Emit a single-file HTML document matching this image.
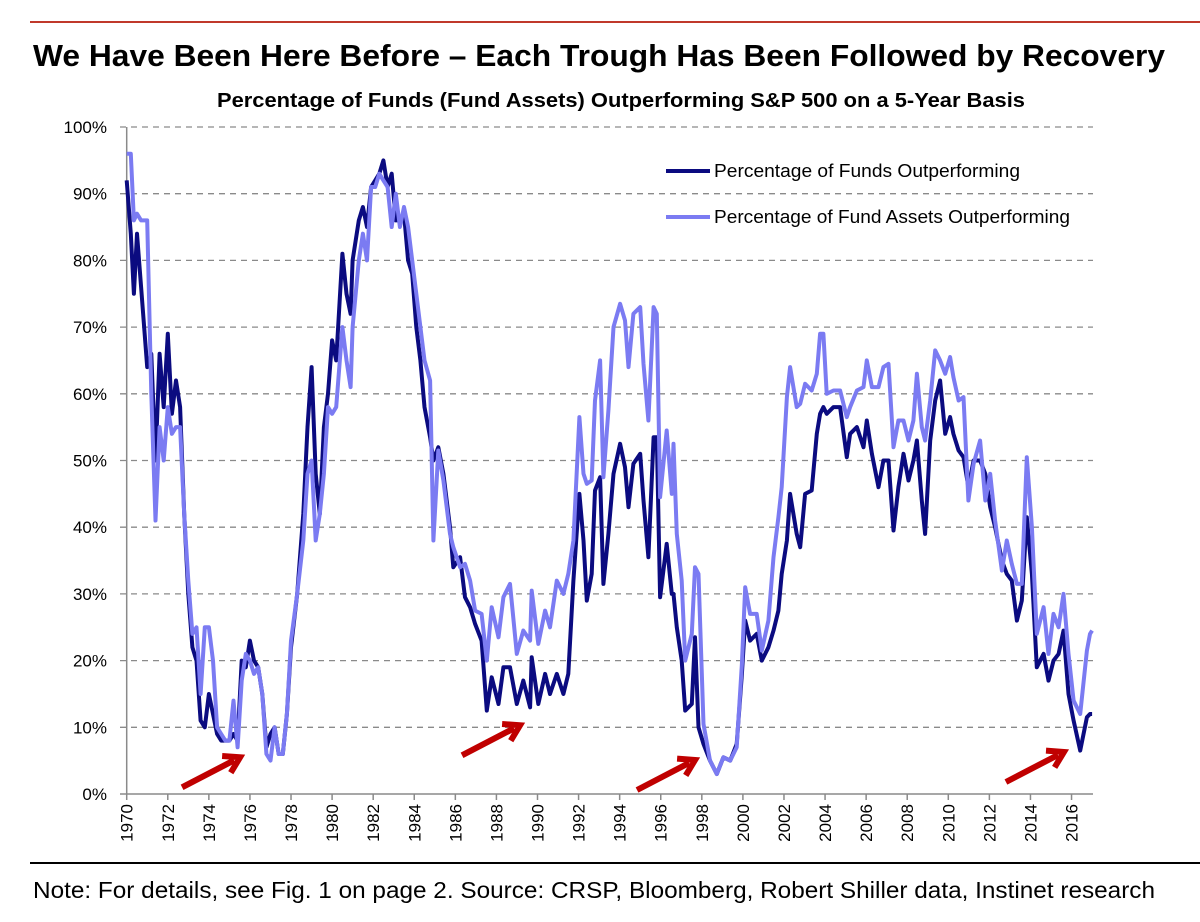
<!DOCTYPE html>
<html><head><meta charset="utf-8">
<style>
html,body{margin:0;padding:0;background:#fff;}
body{width:1200px;height:922px;overflow:hidden;position:relative;font-family:"Liberation Sans",sans-serif;}
</style></head>
<body>
<svg id="chart" width="1200" height="922" xmlns="http://www.w3.org/2000/svg" style="position:absolute;left:0;top:0">
  <line x1="30" y1="22" x2="1200" y2="22" stroke="#c0392b" stroke-width="2"/>
  <text x="33" y="66" font-family="Liberation Sans, sans-serif" font-weight="bold" font-size="31" fill="#000" textLength="1132" lengthAdjust="spacingAndGlyphs">We Have Been Here Before – Each Trough Has Been Followed by Recovery</text>
  <text x="217" y="107" font-family="Liberation Sans Narrow, Liberation Sans, sans-serif" font-weight="bold" font-size="20" fill="#000" textLength="808" lengthAdjust="spacingAndGlyphs">Percentage of Funds (Fund Assets) Outperforming S&amp;P 500 on a 5-Year Basis</text>
  <g id="grid"></g>
  <g id="yaxis"></g>
  <g id="xaxis"></g>
  <g id="series"></g>
  <g id="arrows"></g>
  <g>
    <line x1="666" y1="171" x2="710" y2="171" stroke="#0b0b80" stroke-width="4"/>
    <text x="714" y="177" font-family="Liberation Sans Narrow, Liberation Sans, sans-serif" font-size="18" fill="#000" textLength="306" lengthAdjust="spacingAndGlyphs">Percentage of Funds Outperforming</text>
    <line x1="666" y1="217" x2="710" y2="217" stroke="#7b7bf2" stroke-width="4"/>
    <text x="714" y="223" font-family="Liberation Sans Narrow, Liberation Sans, sans-serif" font-size="18" fill="#000" textLength="356" lengthAdjust="spacingAndGlyphs">Percentage of Fund Assets Outperforming</text>
  </g>
  <line x1="30" y1="863" x2="1200" y2="863" stroke="#000" stroke-width="2"/>
  <text x="33" y="898" font-family="Liberation Sans, sans-serif" font-size="23.5" fill="#000" textLength="1122" lengthAdjust="spacingAndGlyphs">Note: For details, see Fig. 1 on page 2. Source: CRSP, Bloomberg, Robert Shiller data, Instinet research</text>
</svg>
<script>
const years=[1970.0,1970.2,1970.35,1970.5,1970.7,1971.0,1971.2,1971.4,1971.6,1971.8,1972.0,1972.2,1972.4,1972.6,1972.8,1973.0,1973.2,1973.4,1973.6,1973.8,1974.0,1974.2,1974.4,1974.6,1974.8,1975.0,1975.2,1975.4,1975.6,1975.8,1976.0,1976.2,1976.4,1976.6,1976.8,1977.0,1977.2,1977.4,1977.6,1977.8,1978.0,1978.3,1978.6,1978.8,1979.0,1979.2,1979.4,1979.6,1979.8,1980.0,1980.2,1980.5,1980.7,1980.9,1981.0,1981.3,1981.5,1981.7,1981.9,1982.1,1982.3,1982.5,1982.7,1982.9,1983.1,1983.3,1983.5,1983.7,1983.9,1984.1,1984.3,1984.5,1984.77,1984.93,1985.17,1985.42,1985.74,1985.9,1986.23,1986.47,1986.72,1986.96,1987.28,1987.53,1987.77,1988.1,1988.34,1988.66,1988.99,1989.31,1989.64,1989.72,1990.04,1990.37,1990.61,1990.94,1991.26,1991.5,1991.75,1992.04,1992.24,1992.4,1992.64,1992.8,1993.05,1993.21,1993.45,1993.7,1994.02,1994.26,1994.43,1994.67,1995.0,1995.16,1995.4,1995.65,1995.81,1995.97,1996.29,1996.54,1996.62,1996.78,1997.02,1997.19,1997.51,1997.67,1997.84,1998.08,1998.4,1998.73,1999.05,1999.38,1999.7,1999.95,2000.11,2000.35,2000.67,2000.92,2001.24,2001.49,2001.73,2001.89,2002.14,2002.3,2002.62,2002.79,2003.03,2003.35,2003.6,2003.76,2003.92,2004.08,2004.41,2004.73,2005.06,2005.22,2005.55,2005.87,2006.03,2006.28,2006.6,2006.84,2007.09,2007.33,2007.57,2007.82,2008.06,2008.3,2008.47,2008.71,2008.87,2009.12,2009.36,2009.6,2009.85,2010.09,2010.25,2010.5,2010.74,2010.98,2011.23,2011.55,2011.8,2012.04,2012.28,2012.61,2012.85,2013.09,2013.34,2013.58,2013.82,2014.07,2014.31,2014.64,2014.88,2015.12,2015.37,2015.61,2015.85,2016.1,2016.42,2016.75,2016.9,2017.0];
const fundsPct=[92,84,75,84,76,64,66,50,66,58,69,57,62,58,42,30,22,20,11,10,15,12,9,8,8,8,9,8,20,19,23,20,19,15,7,9,10,6,6,12,22,30,42,55,64,48,42,55,60,68,65,81,75,72,80,86,88,85,91,92,93,95,91,93,86,86,87,80,78,70,65,58,53.5,50,52,48,40,34,35.5,29.5,28,25.5,23,12.5,17.5,13.5,19,19,13.5,17,13,20.5,13.5,18,15,18,15,18,32,45,38,29,33,45.5,47.5,31.5,39,48,52.5,49,43,49.5,51,44,35.5,53.5,53.5,29.5,37.5,30,30,25,20,12.5,13.5,23.5,10,7.5,5,3,5.5,5,7.5,18,26,23,24,20,22,24.5,27.5,33,38,45,39,37,45,45.5,54,57,58,57,58,58,50.5,54,55,52,56,51,46,50,50,39.5,46,51,47,50,53,44,39,53,59,62,54,56.5,54,51.5,50.5,46,50,50,48,43,40,35,33,32,26,29,41.5,33,19,21,17,20,21,24.5,15,11,6.5,11.5,12,12];
const assetsPct=[96,96,86,87,86,86,60,41,55,50,58,54,55,55,42,32,24,25,15,25,25,20,10,9,8,8,14,7,17,21,20,18,19,15,6,5,10,6,6,12,23,30,38,48,50,38,42,48,58,57,58,70,65,61,70,80,84,80,91,91,93,92,91,85,90,85,88,85,80,75,70,65,62,38,51.5,47,39,37,34,34.5,32,27.5,27,20,28,23.5,29.5,31.5,21,24.5,23,30.5,22.5,27.5,25,32,30,33,38,56.5,48,46.5,47,59,65,47.5,57.5,70,73.5,71,64,72,73,64.5,56,73,72,44.5,54.5,45,52.5,39,32,20,24,34,33,10.5,5,3,5.5,5,7,19.5,31,27,27,21.5,26,35.5,41.5,46,59.5,64,58,58.5,61.5,60.5,63,69,69,60,60.5,60.5,56.5,58,60.5,61,65,61,61,64,64.5,52,56,56,53,56,63,55,53,59,66.5,65,63,65.5,62.5,59,59.5,44,49.5,53,44,48,41,33.5,38,34.5,31.5,31.5,50.5,40,24,28,21,27,25,30,21,14,12,21.5,24,24.5];
const yTicks=[0,10,20,30,40,50,60,70,80,90,100];
const yTickLabels=["0%","10%","20%","30%","40%","50%","60%","70%","80%","90%","100%"];
const xTicks=[1970,1972,1974,1976,1978,1980,1982,1984,1986,1988,1990,1992,1994,1996,1998,2000,2002,2004,2006,2008,2010,2012,2014,2016];
const arrowTipYears=[1975.52,1989.15,1997.67,2015.63];
const arrowTipValues=[5.5,10.3,5.1,6.3];

const NS="http://www.w3.org/2000/svg";
const X0=126.7, PXY=20.54, Y0=794, PXV=6.67;
const xs=y=>X0+(y-1970)*PXY;
const ys=v=>Y0-v*PXV;
function mk(tag,attrs,parent){const e=document.createElementNS(NS,tag);for(const k in attrs)e.setAttribute(k,attrs[k]);parent.appendChild(e);return e;}
const grid=document.getElementById('grid'),yax=document.getElementById('yaxis'),xax=document.getElementById('xaxis'),ser=document.getElementById('series'),arr=document.getElementById('arrows');
yTicks.forEach((t,i)=>{
  if(t>0){const g=mk('line',{x1:120,x2:1093,y1:ys(t),y2:ys(t),stroke:'#8a8a8a','stroke-width':1.3,'stroke-dasharray':'6,5'},grid);
  
  }
  const tx=mk('text',{x:107,y:ys(t)+6,'text-anchor':'end','font-size':17,'font-family':'Liberation Sans, sans-serif',fill:'#000'},yax);
  tx.textContent=yTickLabels[i];
  
  
});
const ya=mk('line',{x1:X0,x2:X0,y1:ys(100),y2:Y0,stroke:'#8a8a8a','stroke-width':1.5},yax);


const xa=mk('line',{x1:120,x2:1093,y1:Y0,y2:Y0,stroke:'#8a8a8a','stroke-width':1.5},xax);


xTicks.forEach(t=>{
  const x=xs(t);
  const tk=mk('line',{x1:x,x2:x,y1:Y0,y2:Y0+6,stroke:'#8a8a8a','stroke-width':1.5},xax);
  
  
  const tx=mk('text',{x:0,y:0,'text-anchor':'end','font-size':17,'font-family':'Liberation Sans, sans-serif',fill:'#000',transform:`translate(${x+6},${Y0+10}) rotate(-90)`},xax);
  tx.textContent=t;
  
  
});
function line(vals,color,name){
  const d=vals.map((v,i)=>(i?'L':'M')+xs(years[i]).toFixed(1)+','+ys(v).toFixed(1)).join('');
  const p=mk('path',{d:d,fill:'none',stroke:color,'stroke-width':4,'stroke-linejoin':'round'},ser);
  
  
}
line(fundsPct,'#0b0b80','funds-outperforming-line');
line(assetsPct,'#7b7bf2','fund-assets-outperforming-line');
arrowTipYears.forEach((yr,i)=>{
  const tx=xs(yr), ty=ys(arrowTipValues[i]);
  const sx=tx-58, sy=ty+30;
  const g=mk('g',{},arr);
  
  
  mk('line',{x1:sx,y1:sy,x2:tx-6,y2:ty+3,stroke:'#c00000','stroke-width':6},g);
  const ang=Math.atan2(ty-sy,tx-sx);
  const L=18,W=0.55;
  const p1=[tx-L*Math.cos(ang-W),ty-L*Math.sin(ang-W)], p2=[tx-L*Math.cos(ang+W),ty-L*Math.sin(ang+W)];
  mk('polyline',{points:`${p1[0]},${p1[1]} ${tx},${ty} ${p2[0]},${p2[1]}`,fill:'none',stroke:'#c00000','stroke-width':6,'stroke-linejoin':'miter'},g);
});
</script>
</body></html>
